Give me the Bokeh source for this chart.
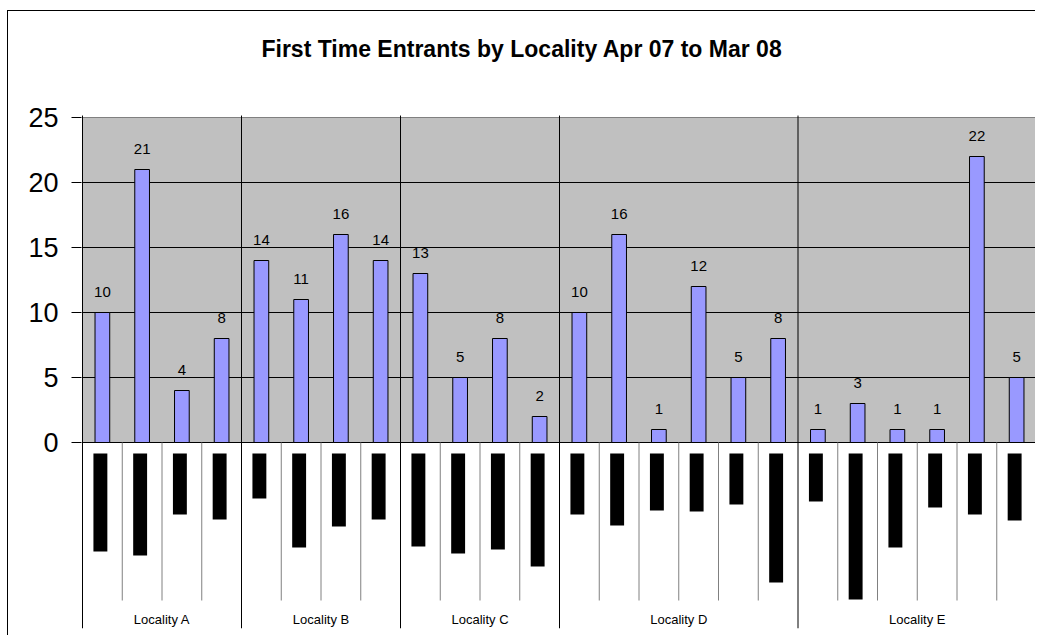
from bokeh.plotting import figure
from bokeh.models import Range1d, LinearAxis, FixedTicker, Grid, Label
from bokeh.embed import file_html
from bokeh.resources import INLINE
from bokeh.core.properties import value

# ---------------- data ----------------
title_text = "First Time Entrants by Locality Apr 07 to Mar 08"
groups = ["Locality A", "Locality B", "Locality C", "Locality D", "Locality E"]
group_sizes = [4, 4, 4, 6, 6]
values = [10, 21, 4, 8,
          14, 11, 16, 14,
          13, 5, 8, 2,
          10, 16, 1, 12, 5, 8,
          1, 3, 1, 1, 22, 5]
# lengths of the (unreadable, rendered as black blocks) rotated sub-category labels
sub_label_len = [98, 102, 61, 66,
                 45, 94, 73, 66,
                 93, 100, 96, 113,
                 61, 72, 57, 58, 51, 129,
                 48, 146, 94, 54, 61, 67]
y_ticks = [0, 5, 10, 15, 20, 25]

# ---------------- layout ----------------
FONT = "Liberation Sans"
n = len(values)
px_per_unit = 13.0          # vertical scale
W, H = 1028, 625
b_left, b_bottom = 73, 8
top_pad_px = 106            # space above the value-axis top inside the frame
frame_w = W - b_left
x_pxu = (frame_w - 1) / n
x_start = -1 / x_pxu
y_max = y_ticks[-1]
frame_h = H - b_bottom
y_top = y_max + top_pad_px / px_per_unit
y_min = y_top - frame_h / px_per_unit

p = figure(width=W, height=H, output_backend="svg", toolbar_location=None,
           x_range=Range1d(x_start, n), y_range=Range1d(y_min, y_top),
           x_axis_location=None, y_axis_location=None,
           min_border_left=b_left, min_border_right=0,
           min_border_top=0, min_border_bottom=b_bottom)
p.center = [r for r in p.center if not isinstance(r, Grid)]
p.outline_line_color = None
p.background_fill_color = "white"
p.border_fill_color = "white"
p.styles = {"margin-left": "7px", "margin-top": "10px",
            "border-left": "1px solid black", "border-top": "1px solid black"}

yaxis = LinearAxis(ticker=FixedTicker(ticks=y_ticks),
                   major_tick_out=10, major_tick_in=0,
                   minor_tick_out=0, minor_tick_in=0,
                   major_label_standoff=13,
                   axis_line_color=None, major_tick_line_color="black",
                   major_label_text_font=FONT,
                   major_label_text_font_size="27px",
                   major_label_text_color="black")
p.add_layout(yaxis, "left")

# plot area
p.quad(left=[0], right=[n], bottom=[y_ticks[0]], top=[y_max],
       fill_color="#C0C0C0", line_color="#808080", line_width=1)
p.segment(x0=[0] * (len(y_ticks) - 1), y0=y_ticks[:-1], x1=[n] * (len(y_ticks) - 1),
          y1=y_ticks[:-1], line_color="black", line_width=1)

# group boundaries (incl. the value-axis line at x=0)
bounds = [0]
for s in group_sizes:
    bounds.append(bounds[-1] + s)
p.segment(x0=bounds, y0=[y_min] * len(bounds), x1=bounds, y1=[y_max + 0.15] * len(bounds),
          line_color="black", line_width=1)

# sub-category separators
sub_sep = [i for i in range(1, n) if i not in bounds]
sub_bottom = -158 / px_per_unit
p.segment(x0=sub_sep, y0=[0] * len(sub_sep), x1=sub_sep, y1=[sub_bottom] * len(sub_sep),
          line_color="#808080", line_width=1)

centers = [i + 0.5 for i in range(n)]

# bars
p.vbar(x=centers, top=values, bottom=0, width=0.37,
       fill_color="#9999FF", line_color="black", line_width=1)

# data labels
p.text(x=centers, y=values, text=[str(v) for v in values],
       text_align="center", text_baseline="alphabetic", y_offset=-21,
       text_font=value(FONT), text_font_size="15px", text_color="black")

# garbled rotated sub-category labels (black blocks)
blk_top = -11 / px_per_unit
p.vbar(x=[c - 0.05 for c in centers], top=[blk_top] * n,
       bottom=[blk_top - L / px_per_unit for L in sub_label_len],
       width=0.35, fill_color="black", line_color=None)

# group labels
g_centers = [(bounds[i] + bounds[i + 1]) / 2 for i in range(len(groups))]
p.text(x=g_centers, y=[-177 / px_per_unit] * len(groups), text=groups,
       text_align="center", text_baseline="middle",
       text_font=value(FONT), text_font_size="13px", text_color="black")

# chart title (centred over the whole chart area)
title_x = (521.5 - 82) / x_pxu
title_y = y_max + (117 - 48) / px_per_unit
p.add_layout(Label(x=title_x, y=title_y, text=title_text,
                   text_align="center", text_baseline="middle",
                   text_font=FONT, text_font_size="23px", text_font_style="bold",
                   text_color="black"))

open("out.html", "w").write(file_html(p, INLINE))
